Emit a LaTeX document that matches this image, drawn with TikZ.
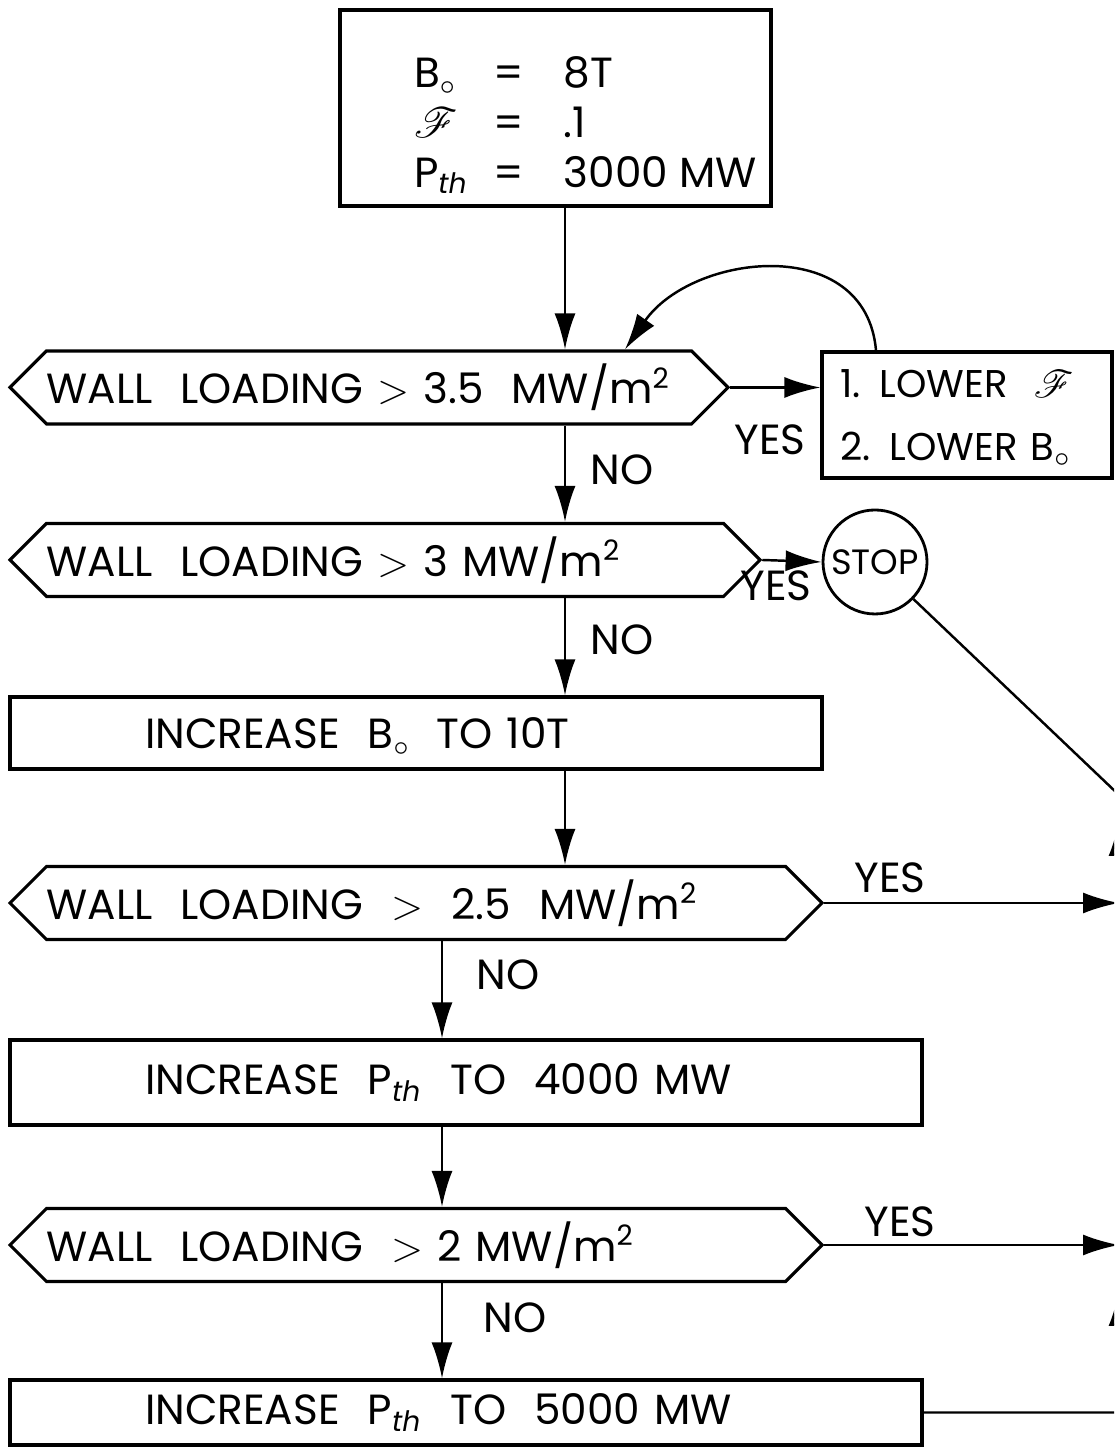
\documentclass[tikz,border=0pt]{standalone}
\usepackage{fontspec}
\setmainfont{Poppins}
\usepackage{mathrsfs}
\usetikzlibrary{shapes.symbols, arrows.meta}

\newcommand{\Bnaught}{B\raisebox{-0.3ex}[0pt][0pt]{$\scriptstyle\circ$}}

\begin{document}
\begin{tikzpicture}[
    >={Latex[length=3.6mm, width=2.1mm]},
    font=\fontsize{12}{15}\selectfont,
    % Boxes and tests share one pen
    act_box/.style={draw, line width=0.9pt, align=left, inner sep=0pt},
    inc_box/.style={act_box, text width=#1, inner xsep=1.35cm},
    test_hex/.style={draw, line width=0.9pt, shape=signal, signal to=west and east,
      signal pointer angle=90, inner xsep=0pt, inner ysep=0pt,
      minimum height=7.3mm, text width=#1, align=left},
    stop_ring/.style={draw, circle, line width=0.8pt, minimum size=10.4mm, inner sep=0pt,
      font=\fontsize{10}{12}\selectfont},
    ans/.style={inner sep=1pt},
    flow/.style={->, line width=0.7pt},
    link/.style={line width=0.7pt}
  ]

  % Page is 11.14 x 14.50, right rail falls just outside it
  \useasboundingbox (0,0) rectangle (11.14,14.50);
  \clip (0,0) rectangle (11.14,14.50);

  % ---------------------------------------------------------
  % START VALUES
  % ---------------------------------------------------------
  \node[act_box, align=center, minimum width=4.31cm, minimum height=1.96cm] (init) at (5.555,13.42)
    {\hspace*{0.6cm}\raisebox{-0.3cm}[0pt][0pt]{\def\arraystretch{0.95}\begin{tabular}{@{}l@{\hspace{2.5mm}}c@{\hspace{4mm}}l@{}}
      \Bnaught & = & 8T \\
      $\mathscr{F}$ & = & .1 \\
      P\textsubscript{\itshape th} & = & 3000 MW
    \end{tabular}}};

  % ---------------------------------------------------------
  % TESTS AND STEPS
  % ---------------------------------------------------------
  \node[test_hex=6.45cm] (hexA) at (3.69,10.625) {WALL\ \ LOADING $>$ 3.5\ \ MW/m\textsuperscript{2}};
  \node[act_box, text width=2.54cm, inner xsep=0.18cm, minimum height=1.26cm,
    font=\fontsize{11}{14}\selectfont] (fix) at (9.67,10.35)
    {\mbox{1. LOWER\ \ $\mathscr{F}$} \\[4pt] \mbox{2. LOWER \Bnaught}};

  \node[test_hex=6.77cm] (hexB) at (3.85,8.90) {WALL\ \ LOADING $>$ 3 MW/m\textsuperscript{2}};
  \node[stop_ring] (stop) at (8.75,8.88) {STOP};

  \node[inc_box=5.42cm, minimum height=0.72cm] (incB) at (4.16,7.17) {INCREASE\ \ \Bnaught\ \ TO 10T};

  \node[test_hex=7.39cm] (hexC) at (4.16,5.47) {WALL\ \ LOADING\ \ $>$\ \ 2.5\ \ MW/m\textsuperscript{2}};

  \node[inc_box=6.42cm, minimum height=0.85cm] (incP4) at (4.66,3.675)
    {INCREASE\ \ P\textsubscript{\itshape th}\ \ TO\ \ 4000 MW};

  \node[test_hex=7.39cm] (hexD) at (4.16,2.05) {WALL\ \ LOADING\ \ $>$\ 2 MW/m\textsuperscript{2}};

  \node[inc_box=6.42cm, minimum height=0.65cm] (incP5) at (4.66,0.375)
    {INCREASE\ \ P\textsubscript{\itshape th}\ \ TO\ \ 5000 MW};

  % YES / NO answers
  \node[ans] (yesA) at (7.70,10.10) {YES};
  \node[ans] (noA) at (6.22,9.80) {NO};
  \node[ans] (yesB) at (7.76,8.64) {YES};
  \node[ans] (noB) at (6.22,8.10) {NO};
  \node[ans] (yesC) at (8.90,5.72) {YES};
  \node[ans] (noC) at (5.08,4.75) {NO};
  \node[ans] (yesD) at (9.00,2.28) {YES};
  \node[ans] (noD) at (5.15,1.32) {NO};

  % ---------------------------------------------------------
  % CONNECTORS
  % ---------------------------------------------------------
  \coordinate (upper_x) at (5.65,0);
  \coordinate (lower_x) at (4.42,0);

  \draw[flow] (init.south -| upper_x) -- (hexA.north -| upper_x);
  \draw[flow] (hexA.south -| upper_x) -- (hexB.north -| upper_x);
  \draw[flow] (hexB.south -| upper_x) -- (incB.north -| upper_x);
  \draw[flow] (incB.south -| upper_x) -- (hexC.north -| upper_x);
  \draw[flow] (hexC.south -| lower_x) -- (incP4.north -| lower_x);
  \draw[flow] (incP4.south -| lower_x) -- (hexD.north -| lower_x);
  \draw[flow] (hexD.south -| lower_x) -- (incP5.north -| lower_x);

  \draw[flow] (hexA.east) -- (fix.west |- hexA.east);
  \draw[flow] (hexB.east) -- (stop.west);

  % retry loop back into the first test
  \draw[flow] (8.76,0 |- fix.north) to[out=95, in=55, looseness=1.2] (6.25,0 |- hexA.north);

  % right rail, mostly off the page
  \coordinate (rail_s) at (11.19,6.55);
  \coordinate (rail_c) at (11.19,5.47);
  \coordinate (rail_d) at (11.19,2.05);
  \coordinate (rail_e) at (11.19,0.375);
  \coordinate (rail_up1) at (11.19,1.60);
  \coordinate (rail_up2) at (11.19,6.30);

  \draw[flow] (hexC.east) -- (rail_c);
  \draw[flow] (hexD.east) -- (rail_d);
  \draw[link] (incP5.east) -- (rail_e) -- (rail_s) -- (stop.-44);
  \draw[flow] (rail_e) -- (rail_up1);
  \draw[flow] (rail_c) -- (rail_up2);

\end{tikzpicture}
\end{document}
